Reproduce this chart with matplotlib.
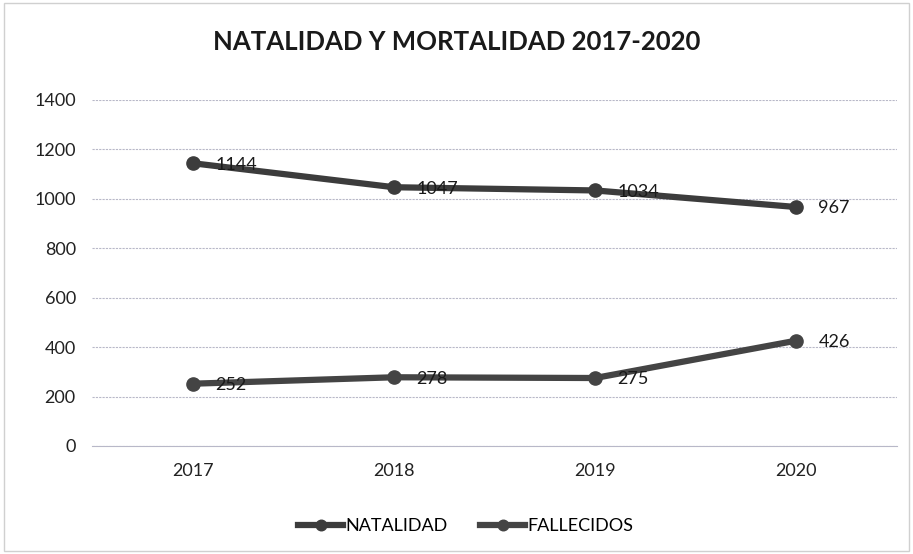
import matplotlib.pyplot as plt
from matplotlib.patches import Rectangle

# datos
years = ['2017', '2018', '2019', '2020']
natalidad = [1144, 1047, 1034, 967]
fallecidos = [252, 278, 275, 426]

plt.rcParams['font.family'] = ['Lato', 'DejaVu Sans']

fig = plt.figure(figsize=(9.13, 5.54), dpi=100)
ax = fig.add_axes([0.1013, 0.195, 0.8807, 0.6245])

# borde del grafico
fig.patches.append(Rectangle((0.004, 0.005), 0.992, 0.99, transform=fig.transFigure,
                             fill=False, edgecolor='#d0d0d0', linewidth=1))

x = list(range(len(years)))
col = '#3c3c3c'
ax.plot(x, natalidad, color=col, linewidth=4.5, marker='o', markersize=9.5, label='NATALIDAD')
ax.plot(x, fallecidos, color='#444444', linewidth=4.5, marker='o', markersize=9.5, label='FALLECIDOS')

for i in x:
    ax.annotate(str(natalidad[i]), (i, natalidad[i]), xytext=(16, -1), textcoords='offset points',
                va='center', ha='left', fontsize=13, color='#1a1a1a')
    ax.annotate(str(fallecidos[i]), (i, fallecidos[i]), xytext=(16, -1), textcoords='offset points',
                va='center', ha='left', fontsize=13, color='#1a1a1a')

ax.set_xlim(-0.5, 3.5)
ax.set_ylim(0, 1400)
ax.set_yticks(range(0, 1401, 200))
ax.set_xticks(x)
ax.set_xticklabels(years)
ax.tick_params(length=0, labelsize=13, colors='#222222', pad=12)
ax.yaxis.grid(True, color='#b8b8c8', linewidth=0.8, linestyle=(0, (2, 1)))
for s in ax.spines.values():
    s.set_visible(False)
ax.spines['bottom'].set_visible(True)
ax.spines['bottom'].set_color('#b8b8c8')

fig.text(0.5, 0.925, 'NATALIDAD Y MORTALIDAD 2017-2020', ha='center', va='center',
         fontsize=18.5, fontweight='bold', color='#1a1a1a')

fig.legend(loc='center', bbox_to_anchor=(0.51, 0.05), ncol=2, frameon=False, fontsize=13,
           handlelength=2.5, handletextpad=0.1, columnspacing=1.8, markerscale=0.8)

fig.savefig('out.png', dpi=100)
